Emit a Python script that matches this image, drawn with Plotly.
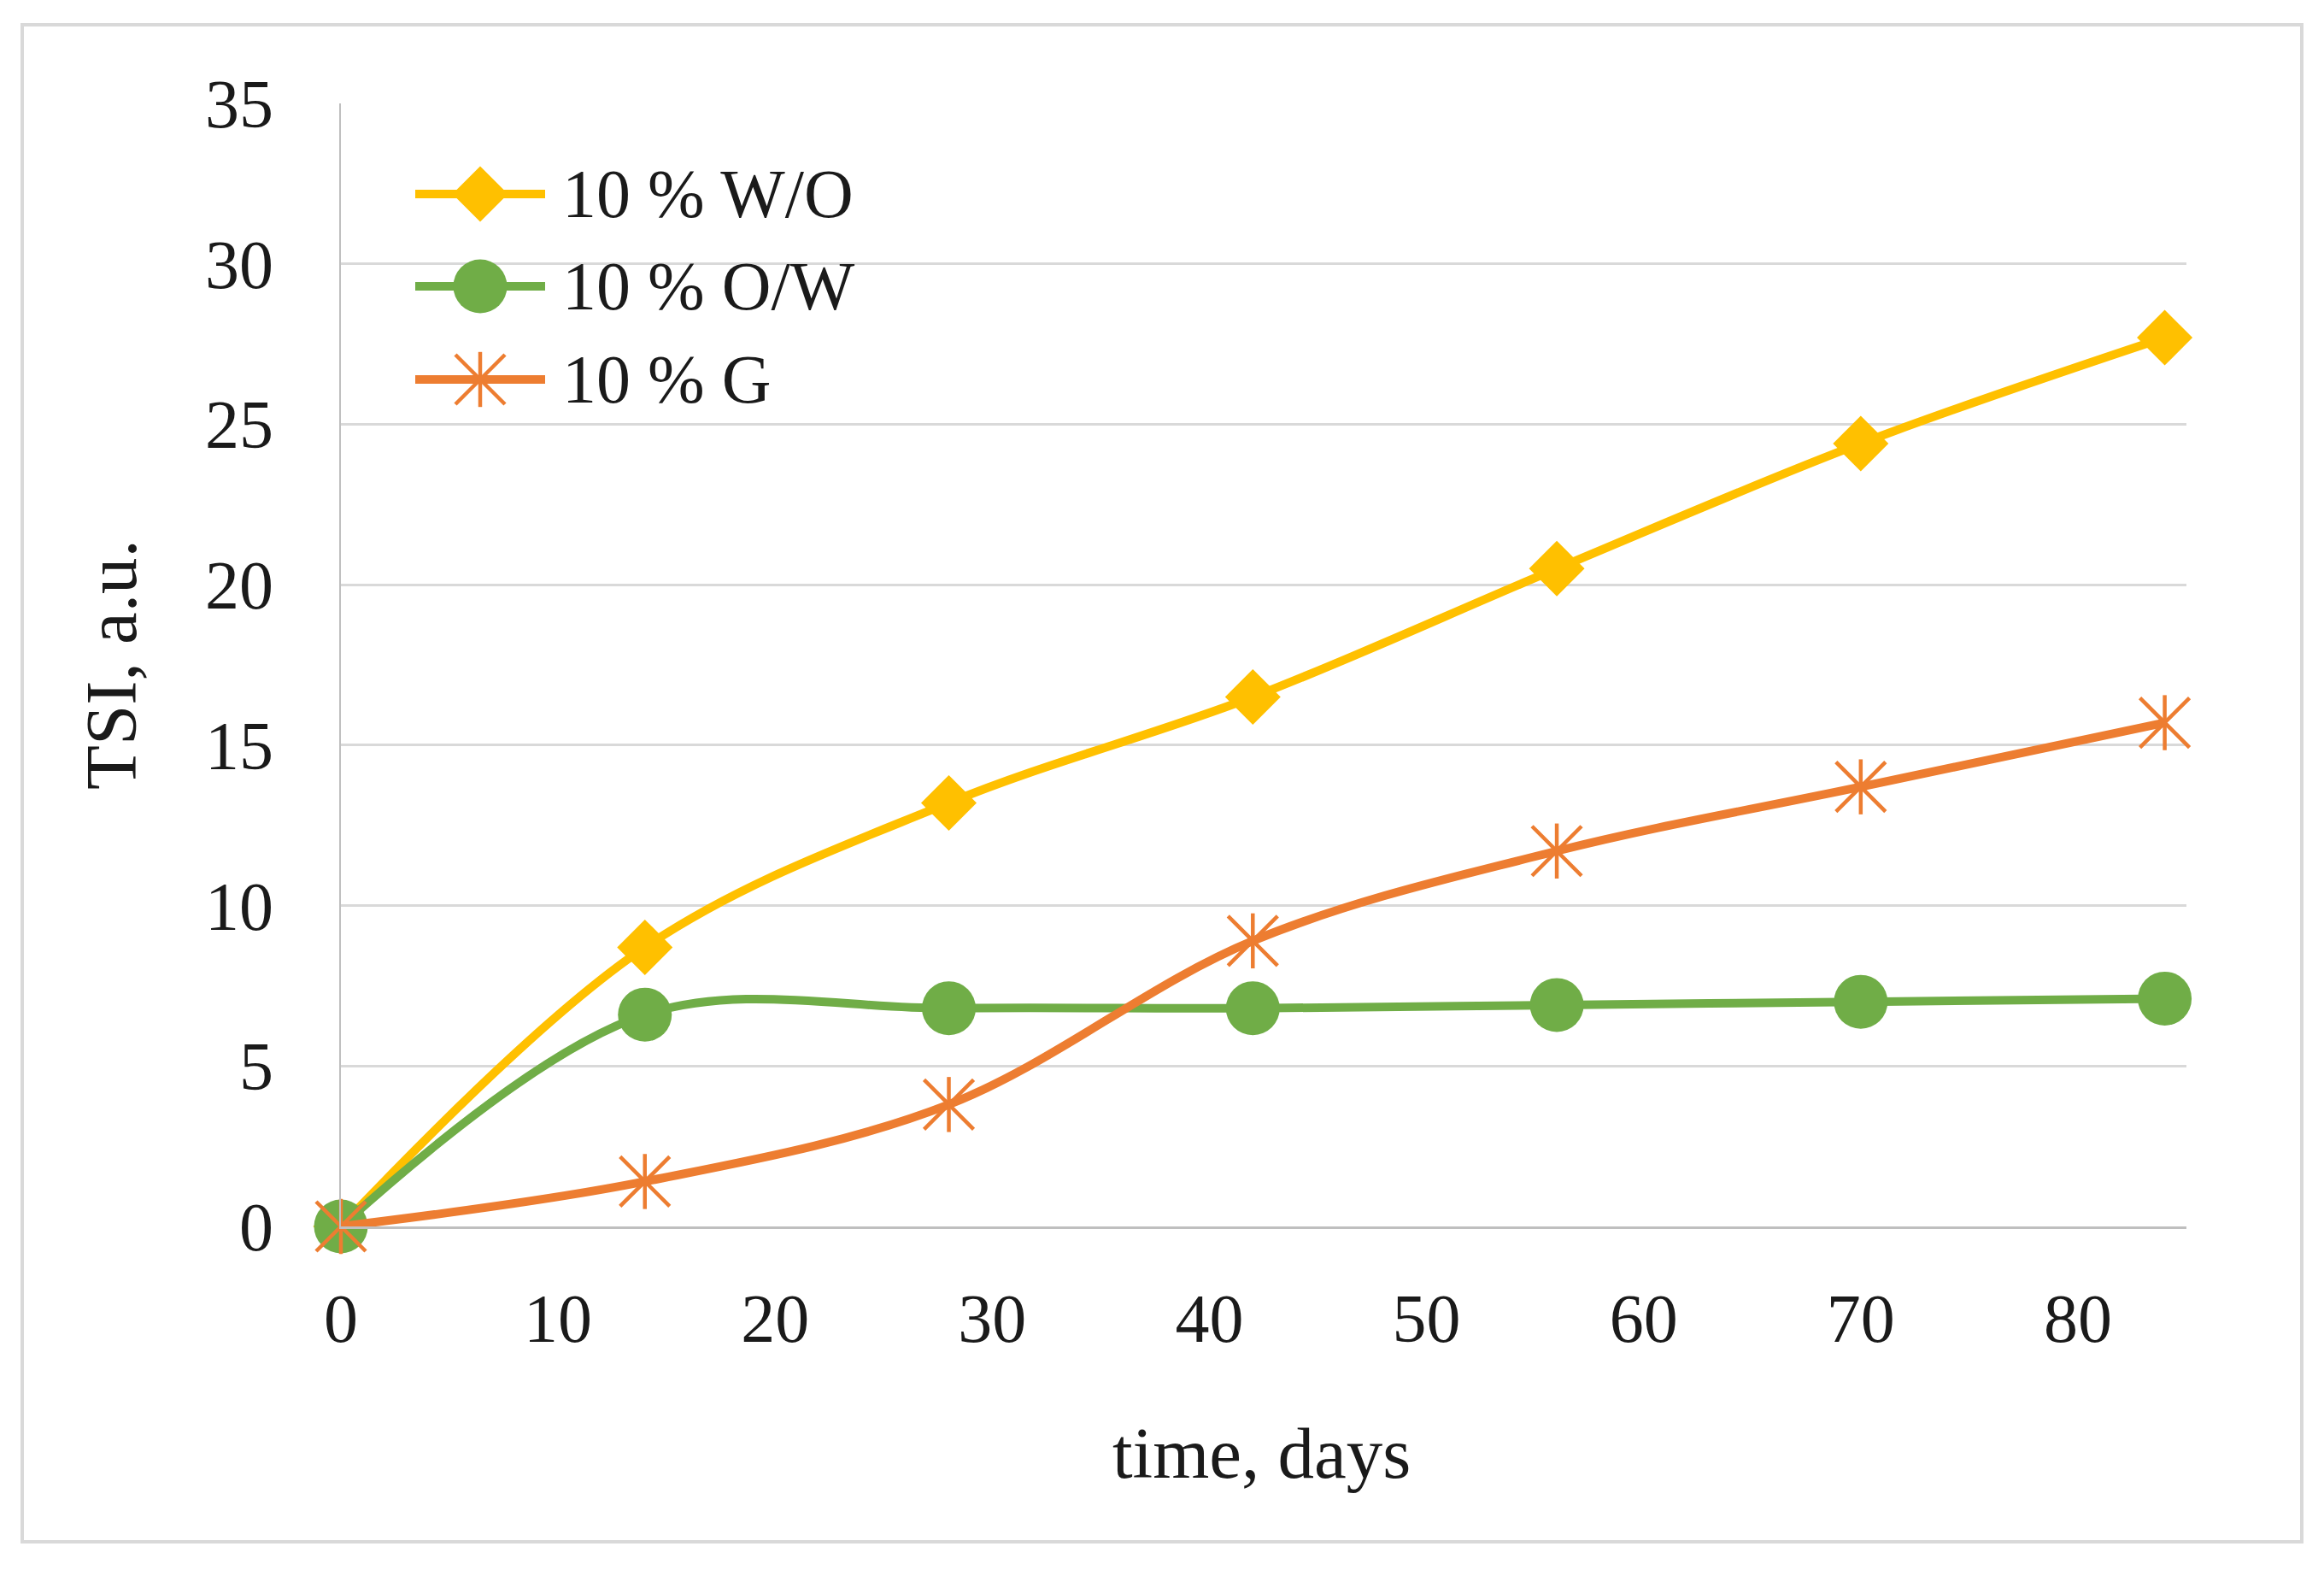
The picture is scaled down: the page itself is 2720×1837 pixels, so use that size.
import plotly.graph_objects as go

# ---- data ----
days = [0, 14, 28, 42, 56, 70, 84]
tsi_wo = [0.0, 8.7, 13.2, 16.5, 20.5, 24.4, 27.7]
tsi_ow = [0.0, 6.6, 6.8, 6.8, 6.9, 7.0, 7.1]
tsi_g = [0.0, 1.4, 3.8, 8.9, 11.7, 13.7, 15.7]
series_names = ["10 % W/O", "10 % O/W", "10 % G"]
x_ticks = [0, 10, 20, 30, 40, 50, 60, 70, 80]
y_ticks = [0, 5, 10, 15, 20, 25, 30, 35]

# ---- style / layout constants ----
W, H = 2720, 1837
L, R, T, B = 399, 2559, 121, 1435
PW, PH = R - L, B - T
FONT = "Liberation Serif"
FS = 80
FS_T = 85
TXT = "#1a1a1a"
C_WO, C_OW, C_G = "#FFC000", "#70AD47", "#ED7D31"
LW = 10
DIA, CIR, XS, NS, MLW = 50, 63, 58, 46, 4.5

fig = go.Figure()

fig.add_trace(go.Scatter(x=days, y=tsi_wo, name=series_names[0], mode="lines+markers",
                         line=dict(color=C_WO, width=LW, shape="spline", smoothing=1.0),
                         marker=dict(symbol="diamond", size=DIA, color=C_WO),
                         cliponaxis=False, showlegend=False))
fig.add_trace(go.Scatter(x=days, y=tsi_ow, name=series_names[1], mode="lines+markers",
                         line=dict(color=C_OW, width=LW, shape="spline", smoothing=1.0),
                         marker=dict(symbol="circle", size=CIR, color=C_OW),
                         cliponaxis=False, showlegend=False))
fig.add_trace(go.Scatter(x=days, y=tsi_g, name=series_names[2], mode="lines+markers",
                         line=dict(color=C_G, width=LW, shape="spline", smoothing=1.0),
                         marker=dict(symbol="x-thin-open", size=XS, color=C_G,
                                     line=dict(color=C_G, width=MLW)),
                         cliponaxis=False, showlegend=False))
fig.add_trace(go.Scatter(x=days, y=tsi_g, mode="markers", hoverinfo="skip",
                         marker=dict(symbol="line-ns-open", size=NS, color=C_G,
                                     line=dict(color=C_G, width=MLW)),
                         cliponaxis=False, showlegend=False))

# ---- custom legend on a pixel-based overlay axis ----
leg_rows = [106, 214, 323]
leg_x0, leg_x1, leg_xm, leg_tx = 87, 239, 163, 257
leg_specs = [
    (C_WO, dict(symbol="diamond", size=DIA, color=C_WO)),
    (C_OW, dict(symbol="circle", size=CIR, color=C_OW)),
    (C_G, dict(symbol="x-thin-open", size=XS, color=C_G, line=dict(color=C_G, width=MLW))),
]
for (col, mk), yy, nm in zip(leg_specs, leg_rows, series_names):
    fig.add_trace(go.Scatter(x=[leg_x0, leg_x1], y=[yy, yy], mode="lines",
                             line=dict(color=col, width=LW), xaxis="x2", yaxis="y2",
                             hoverinfo="skip", showlegend=False, cliponaxis=False))
    fig.add_trace(go.Scatter(x=[leg_xm], y=[yy], mode="markers", marker=mk,
                             xaxis="x2", yaxis="y2", hoverinfo="skip",
                             showlegend=False, cliponaxis=False))
    fig.add_annotation(x=leg_tx, y=yy, xref="x2", yref="y2", text=nm, showarrow=False,
                       xanchor="left", yanchor="middle",
                       font=dict(family=FONT, size=FS, color=TXT))
fig.add_trace(go.Scatter(x=[leg_xm], y=[leg_rows[2]], mode="markers",
                         marker=dict(symbol="line-ns-open", size=NS, color=C_G,
                                     line=dict(color=C_G, width=MLW)),
                         xaxis="x2", yaxis="y2", hoverinfo="skip",
                         showlegend=False, cliponaxis=False))

# axis titles
fig.add_annotation(x=(1476 - L) / PW, y=1 - (1700 - T) / PH, xref="paper", yref="paper",
                   text="time, days", showarrow=False, xanchor="center", yanchor="middle",
                   font=dict(family=FONT, size=FS_T, color=TXT))
fig.add_annotation(x=(130 - L) / PW, y=0.5, xref="paper", yref="paper",
                   text="TSI, a.u.", textangle=-90, showarrow=False,
                   xanchor="center", yanchor="middle",
                   font=dict(family=FONT, size=FS_T, color=TXT))

# outer chart border
fig.add_shape(type="rect", xref="paper", yref="paper",
              x0=(26 - L) / PW, x1=(2694 - L) / PW,
              y0=1 - (1804 - T) / PH, y1=1 - (29 - T) / PH,
              line=dict(color="#D9D9D9", width=4), layer="below")

fig.update_layout(
    width=W, height=H,
    margin=dict(l=L, r=W - R, t=T, b=H - B, pad=0),
    paper_bgcolor="white", plot_bgcolor="white",
    font=dict(family=FONT, size=FS, color=TXT),
    showlegend=False,
    xaxis=dict(range=[0, 85], tickvals=x_ticks, showgrid=False, zeroline=False,
               showline=True, linecolor="#BFBFBF", linewidth=3, ticks="",
               ticklabelstandoff=36, tickfont=dict(family=FONT, size=FS, color=TXT)),
    yaxis=dict(range=[0, 35], tickvals=y_ticks, showgrid=True, gridcolor="#D9D9D9",
               gridwidth=3, zeroline=False, showline=True, linecolor="#BFBFBF",
               linewidth=2, ticks="", ticklabelstandoff=61,
               tickfont=dict(family=FONT, size=FS, color=TXT)),
    xaxis2=dict(range=[0, PW], overlaying="x", visible=False, fixedrange=True),
    yaxis2=dict(range=[PH, 0], overlaying="y", visible=False, fixedrange=True),
)

fig.write_html("out.html")
